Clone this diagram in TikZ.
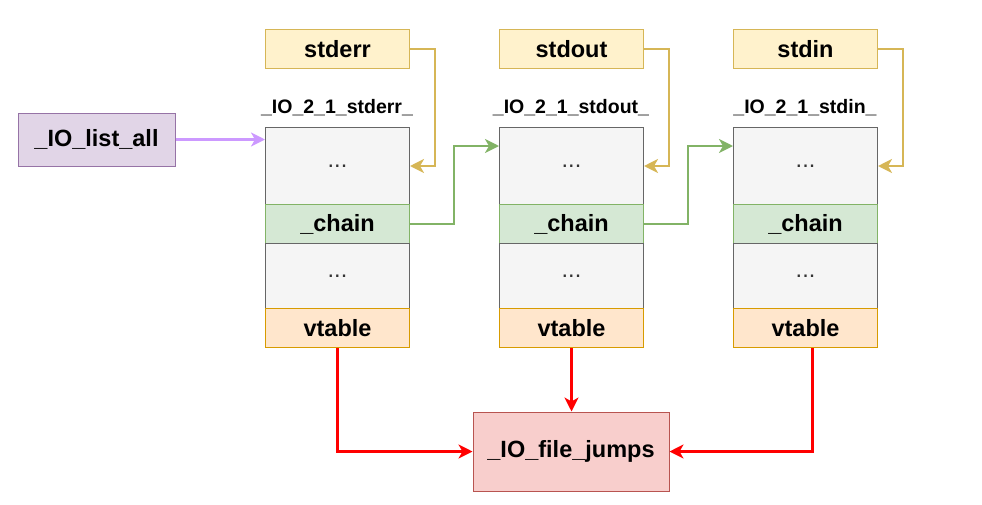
\documentclass[tikz,border=0pt]{standalone}
\usepackage{fontspec}
\setmainfont{Liberation Sans}
\usetikzlibrary{arrows.meta}
\definecolor{yfill}{HTML}{FFF2CC}\definecolor{ydraw}{HTML}{D6B656}
\definecolor{gfill}{HTML}{D5E8D4}\definecolor{gdraw}{HTML}{82B366}
\definecolor{sfill}{HTML}{F5F5F5}\definecolor{sdraw}{HTML}{666666}
\definecolor{ofill}{HTML}{FFE6CC}\definecolor{odraw}{HTML}{D79B00}
\definecolor{pfill}{HTML}{E1D5E7}\definecolor{pdraw}{HTML}{9673A6}
\definecolor{parrow}{HTML}{CC99FF}
\definecolor{rfill}{HTML}{F8CECC}\definecolor{rdraw}{HTML}{B85450}
\definecolor{rarrow}{HTML}{FF0000}
\definecolor{dtext}{HTML}{333333}
\begin{document}
\begin{tikzpicture}[x=1pt,y=-1pt,
  cell/.style={draw, line width=1pt, minimum width=144pt, inner sep=0pt, anchor=north west,
    font=\fontsize{23.5}{27}\selectfont\bfseries},
  ptrbox/.style={cell, fill=yfill, draw=ydraw, minimum height=39pt},
  dotsbox/.style={cell, fill=sfill, draw=sdraw, text=dtext, font=\fontsize{23.5}{27}\selectfont},
  chainbox/.style={cell, fill=gfill, draw=gdraw, minimum height=39pt},
  vtbox/.style={cell, fill=ofill, draw=odraw, minimum height=39pt},
  structlabel/.style={anchor=base, font=\fontsize{19.5}{23}\selectfont\bfseries},
  tip/.style={-{Stealth[length=14pt,width=14pt,inset=4pt]}},
  yarrow/.style={tip, draw=ydraw, line width=2.4pt},
  garrow/.style={tip, draw=gdraw, line width=2.4pt},
  parr/.style={tip, draw=parrow, line width=2.2pt},
  rarr/.style={tip, draw=rarrow, line width=2.2pt},
]
\useasboundingbox (0,0) rectangle (982,504);

\foreach \n/\x/\t in {err/265/stderr, out/499/stdout, in/733/stdin}{
  \node[ptrbox] (ptr\n) at (\x,29) {\t};
  \node[structlabel] (lab\n) at (\x+72,113) {\_IO\_2\_1\_\t\_};
  \node[dotsbox, minimum height=77pt] (dotsA\n) at (\x,127) {...};
  \node[chainbox] (chain\n) at (\x,204) {\_chain};
  \node[dotsbox, minimum height=65pt] (dotsB\n) at (\x,243) {...};
  \node[vtbox] (vt\n) at (\x,308) {vtable};
}

\node[draw=pdraw, fill=pfill, line width=1pt, minimum width=157pt, minimum height=53pt,
  font=\fontsize{23.5}{27}\selectfont\bfseries] (list) at (96.5,139.5) {\_IO\_list\_all};
\node[draw=rdraw, fill=rfill, line width=1pt, minimum width=196pt, minimum height=79pt,
  font=\fontsize{23.5}{27}\selectfont\bfseries] (jumps) at (571,451.5) {\_IO\_file\_jumps};

\draw[parr] (list.east) -- (list.east -| dotsAerr.west);

\foreach \n in {err,out,in}{
  \draw[yarrow] (ptr\n.east) -- ++(25,0) |- (dotsA\n.east);
}

\draw[garrow] (chainerr.east) -- ++(44,0) |- ([yshift=-19pt]dotsAout.north west);
\draw[garrow] (chainout.east) -- ++(44,0) |- ([yshift=-19pt]dotsAin.north west);

\draw[rarr] (vterr.south) |- (jumps.west);
\draw[rarr] (vtout.south) -- (vtout.south |- jumps.north);
\draw[rarr] ([xshift=7pt]vtin.south) |- (jumps.east);
\end{tikzpicture}
\end{document}
